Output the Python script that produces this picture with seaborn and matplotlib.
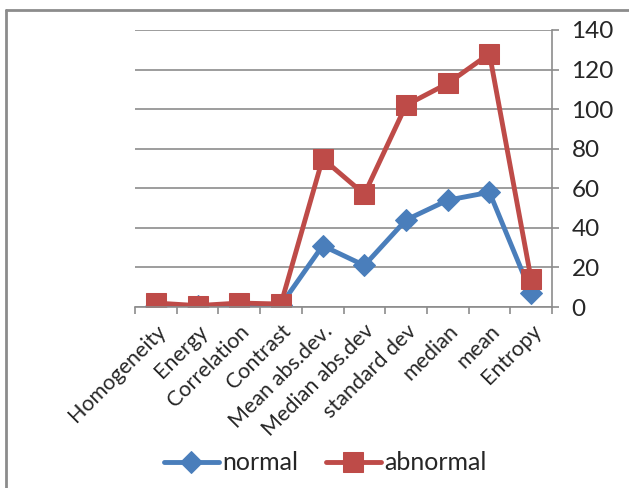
import pandas as pd
import seaborn as sns
import matplotlib.pyplot as plt
from matplotlib.lines import Line2D

categories = ['Homogeneity', 'Energy', 'Correlation', 'Contrast', 'Mean abs.dev.',
              'Median abs.dev', 'standard dev', 'median', 'mean', 'Entropy']
normal = [0.5, 0.3, 1.0, 1.0, 31, 21, 44, 54, 58, 7]
abnormal = [2.0, 0.7, 2.0, 1.5, 75, 57, 102, 113, 128, 14]
y_ticks = [0, 20, 40, 60, 80, 100, 120, 140]

blue = '#4A7EBB'
red = '#BE4B48'
grey = '#8C8C8C'

sns.set_style('white')
plt.rcParams['font.family'] = ['Lato', 'DejaVu Sans']

fig = plt.figure(figsize=(6.29, 4.88), dpi=100)
ax = fig.add_axes([135 / 629, 1 - 307 / 488, (552 - 135) / 629, (307 - 30) / 488])

df = pd.DataFrame({'cat': categories, 'normal': normal, 'abnormal': abnormal})
x = list(range(len(categories)))

sns.lineplot(x=x, y=df['normal'], ax=ax, color=blue, linewidth=3.5, marker='D',
             markersize=11, markeredgecolor=blue, label='normal', sort=False)
sns.lineplot(x=x, y=df['abnormal'], ax=ax, color=red, linewidth=3.5, marker='s',
             markersize=14, markeredgecolor=red, label='abnormal', sort=False)

ax.set_xlim(-0.5, len(categories) - 0.5)
ax.set_ylim(0, 140)
ax.set_yticks(y_ticks)
ax.yaxis.tick_right()
ax.grid(axis='y', color=grey, linewidth=1.2)
ax.set_axisbelow(True)
ax.set_xlabel('')
ax.set_ylabel('')

ax.set_xticks(x)
ax.set_xticklabels(categories, rotation=45, ha='right', rotation_mode='anchor', fontsize=15.5)
ax.set_xticks([i - 0.5 for i in range(len(categories) + 1)], minor=True)
ax.tick_params(axis='x', which='major', length=0, pad=10)
ax.tick_params(axis='x', which='minor', length=5, width=1.2, color=grey, direction='out', bottom=True)
ax.tick_params(axis='y', labelsize=17.5, length=5, width=1.2, color=grey, direction='out',
               right=True, left=False, pad=9)

for side in ['top', 'left']:
    ax.spines[side].set_visible(False)
for side in ['bottom', 'right']:
    ax.spines[side].set_color(grey)
    ax.spines[side].set_linewidth(1.2)

handles, labels = ax.get_legend_handles_labels()
ax.get_legend().remove()
fig.legend(handles, labels, loc='center', bbox_to_anchor=(0.517, 1 - 463 / 488), ncol=2,
           frameon=False, fontsize=18, handlelength=2.2, handletextpad=0.15, columnspacing=1.1)

# frame round the chart area (cropped at right and bottom)
fig.add_artist(Line2D([5.5 / 629, 1], [1 - 10 / 488] * 2, color=grey, linewidth=2,
                      transform=fig.transFigure))
fig.add_artist(Line2D([5.5 / 629] * 2, [0, 1 - 10 / 488], color=grey, linewidth=2,
                      transform=fig.transFigure))

fig.savefig('out.png', dpi=100)
